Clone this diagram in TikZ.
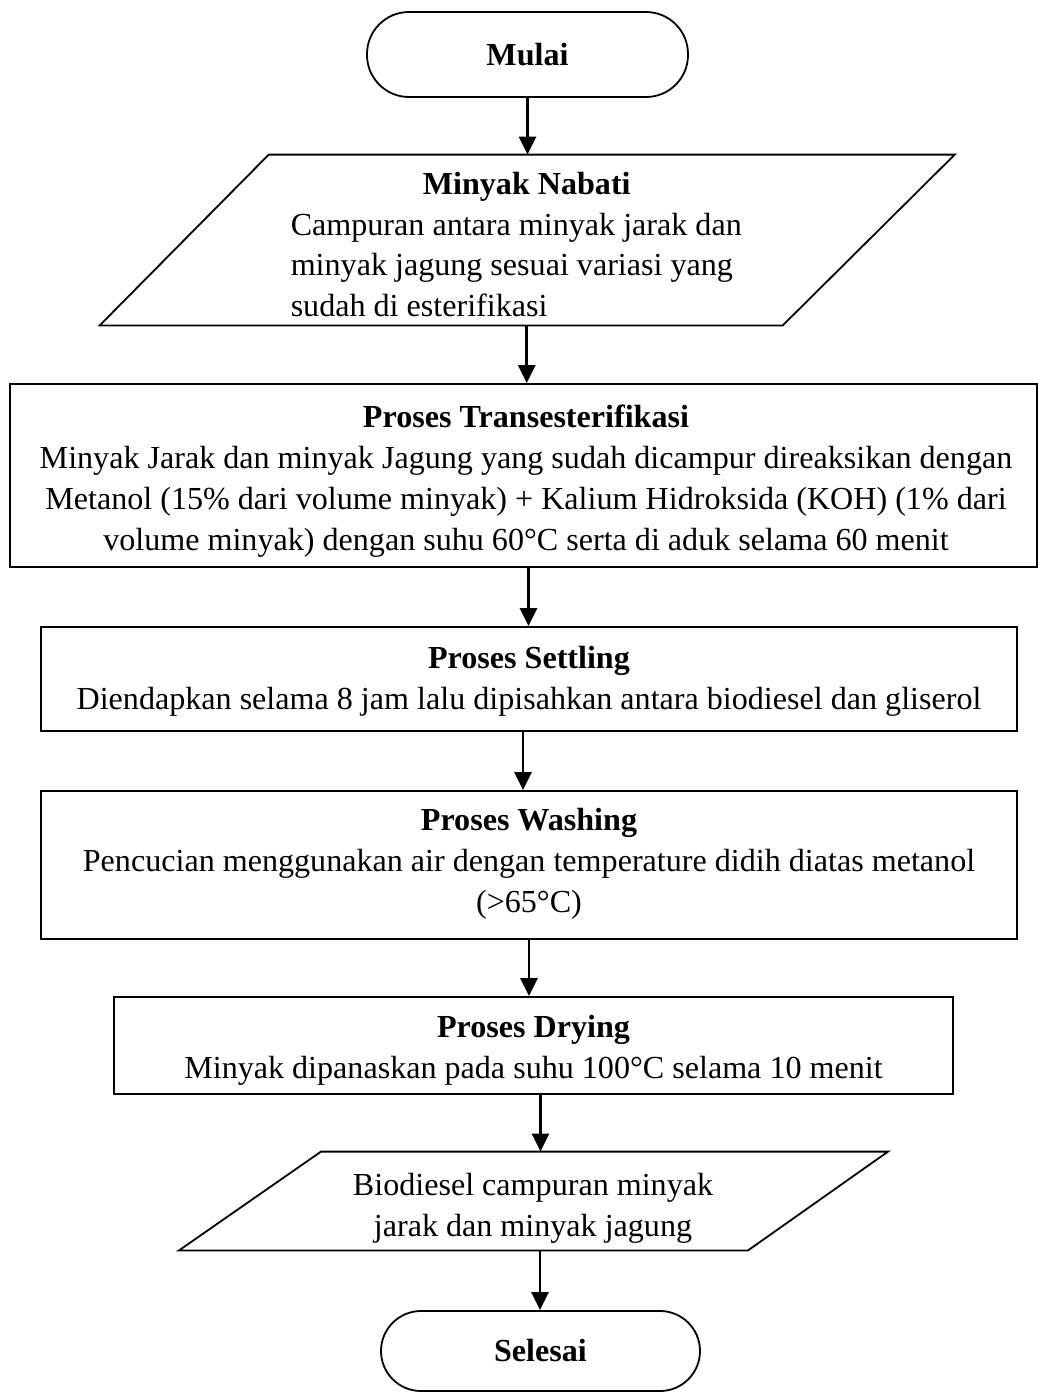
\documentclass[tikz,border=0pt]{standalone}
\usepackage{fontspec}
\setmainfont{Liberation Serif}
\usetikzlibrary{arrows.meta,calc}
\begin{document}
\begin{tikzpicture}[x=0.5pt,y=-0.5pt,
  every node/.style={font=\fontsize{16.05pt}{20.4pt}\selectfont, inner sep=0pt},
  line/.style={line width=0.9pt},
  terminal/.style={draw, line width=0.9pt, align=center},
  process/.style={draw, line width=0.9pt},
  txt/.style={align=center},
  arr/.style={line width=1.4pt, -{Triangle[length=9pt,width=8.5pt]}}]

\useasboundingbox (0,0) rectangle (1038,1392);

% start terminal
\node[terminal, minimum width=160.5pt, minimum height=42.5pt, rounded corners=21pt]
  (start) at (527.5,54.5) {\bfseries Mulai};

% input: vegetable oil blend
\node[minimum width=10pt, minimum height=85pt] (nabati) at (526.75,240) {};
\draw[line] ($(nabati.north)+(-258,0)$) -- ($(nabati.north)+(428,0)$)
  -- ($(nabati.south)+(256,0)$) -- ($(nabati.south)+(-427,0)$) -- cycle;
\node[text width=236pt, align=flush left] (nabatitext) at (526.75,244.5)
  {\makebox[\linewidth][c]{\bfseries Minyak Nabati}\\
   Campuran antara minyak jarak dan\\
   minyak jagung sesuai variasi yang\\
   sudah di esterifikasi};

% process steps
\node[process, minimum width=513.5pt, minimum height=91.5pt] (trans) at (523.5,475.5) {};
\node[txt] (transtext) at (526,481)
  {{\bfseries Proses Transesterifikasi}\\
   Minyak Jarak dan minyak Jagung yang sudah dicampur direaksikan dengan\\
   Metanol (15\% dari volume minyak) + Kalium Hidroksida (KOH) (1\% dari\\
   volume minyak) dengan suhu 60°C serta di aduk selama 60 menit};

\node[process, minimum width=488pt, minimum height=52pt] (settle) at (529,679) {};
\node[txt] (settletext) at (529,681)
  {{\bfseries Proses Settling}\\
   Diendapkan selama 8 jam lalu dipisahkan antara biodiesel dan gliserol};

\node[process, minimum width=488pt, minimum height=74pt] (wash) at (529,865) {};
\node[txt] (washtext) at (529,864)
  {{\bfseries Proses Washing}\\
   Pencucian menggunakan air dengan temperature didih diatas metanol\\
   (>65°C)};

\node[process, minimum width=419.5pt, minimum height=48.5pt] (dry) at (533.5,1045.5) {};
\node[txt] (drytext) at (533.5,1050)
  {{\bfseries Proses Drying}\\
   Minyak dipanaskan pada suhu 100°C selama 10 menit};

% output: biodiesel
\node[minimum width=10pt, minimum height=49pt] (biod) at (534,1201) {};
\draw[line] ($(biod.north)+(-213,0)$) -- ($(biod.north)+(354,0)$)
  -- ($(biod.south)+(214,0)$) -- ($(biod.south)+(-355,0)$) -- cycle;
\node[txt] (biodtext) at (533,1208)
  {Biodiesel campuran minyak\\jarak dan minyak jagung};

% end terminal
\node[terminal, minimum width=159.5pt, minimum height=40pt, rounded corners=20pt]
  (finish) at (540.5,1351) {\bfseries Selesai};

% connectors
\draw[arr] (start.south) -- (start.south |- nabati.north);
\draw[arr] (nabati.south) -- (nabati.south |- trans.north);
\draw[arr] ([xshift=2.5]trans.south) -- ([xshift=2.5]trans.south |- settle.north);
\draw[arr] ([xshift=-3]settle.south) -- ([xshift=-3]settle.south |- wash.north);
\draw[arr] (wash.south) -- (wash.south |- dry.north);
\draw[arr] ([xshift=3.5]dry.south) -- ([xshift=3.5]dry.south |- biod.north);
\draw[arr] ([xshift=3]biod.south) -- ([xshift=3]biod.south |- finish.north);
\end{tikzpicture}
\end{document}
